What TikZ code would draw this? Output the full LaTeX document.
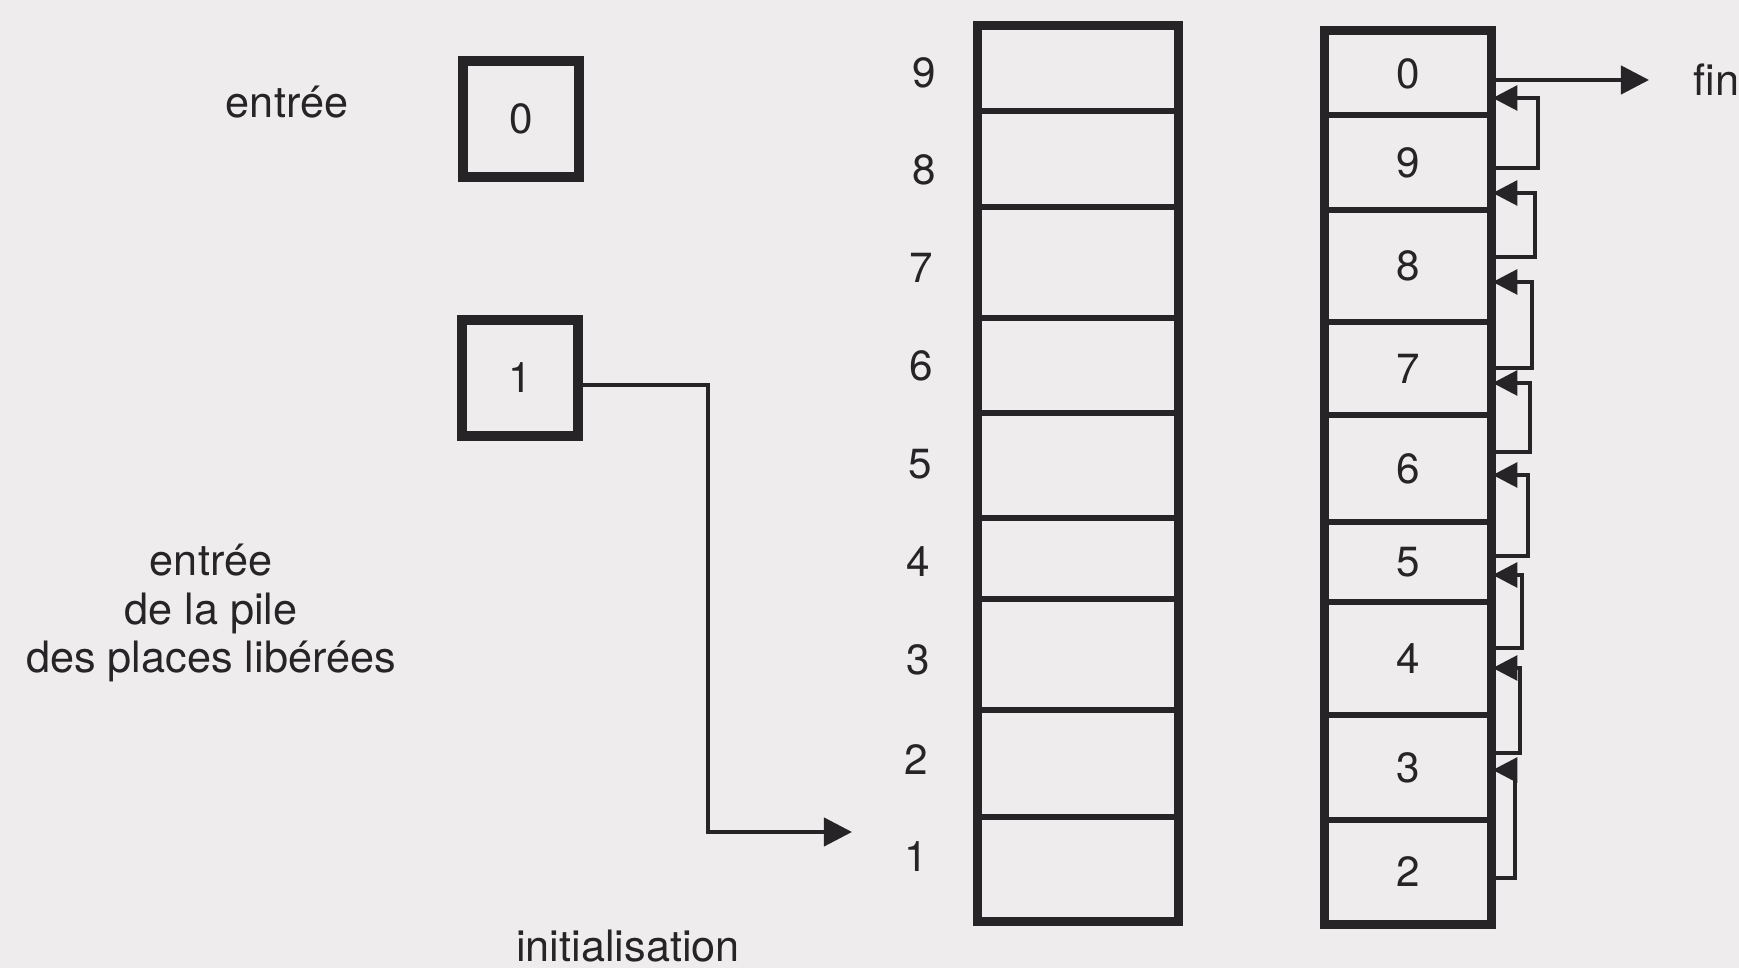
\documentclass[tikz,border=0pt]{standalone}
\usepackage{fontspec}
\setmainfont{TeX Gyre Heros}
\usetikzlibrary{arrows.meta,calc}
\definecolor{paper}{RGB}{239,236,237}
\definecolor{ink}{RGB}{38,36,38}
\tikzset{
  txt/.style={text=ink, font=\fontsize{12.3}{13.7}\selectfont, inner sep=0pt},
  num/.style={text=ink, font=\fontsize{12}{14}\selectfont, inner sep=0pt},
  regbox/.style={draw=ink, line width=3pt, minimum width=1.16cm, minimum height=1.16cm, inner sep=0pt, text=ink, font=\fontsize{12}{14}\selectfont},
  lcell/.style={draw=ink, line width=1.5pt, minimum width=1.98cm, inner sep=0pt},
  rcell/.style={draw=ink, line width=1.5pt, minimum width=1.64cm, inner sep=0pt, text=ink, font=\fontsize{12}{14}\selectfont},
  outerbox/.style={draw=ink, line width=2pt},
  link/.style={draw=ink, line width=1.1pt, -{Triangle[length=7pt,width=7pt]}},
  biglink/.style={draw=ink, line width=1.2pt, -{Triangle[length=8pt,width=8pt]}},
}
\begin{document}
\begin{tikzpicture}[x=0.01cm, y=-0.01cm]
\fill[paper] (0,0) rectangle (1739,968);
\useasboundingbox (0,0) rectangle (1739,968);

% registers
\node[txt] (lab0) at (287,102) {entrée};
\node[regbox] (B0) at (521,119) {0};
\node[regbox] (B1) at (520,378) {1};
\node[txt, align=center] (lab1) at (211,613) {entrée\\de la pile\\des places libérées};

% left stack
\node[lcell, minimum height=0.84cm] (L9) at (1078,69) {};
\node[lcell, minimum height=0.96cm] (L8) at (1078,159) {};
\node[lcell, minimum height=1.11cm] (L7) at (1078,262.5) {};
\node[lcell, minimum height=0.95cm] (L6) at (1078,365.5) {};
\node[lcell, minimum height=1.05cm] (L5) at (1078,465.5) {};
\node[lcell, minimum height=0.81cm] (L4) at (1078,558.5) {};
\node[lcell, minimum height=1.11cm] (L3) at (1078,654.5) {};
\node[lcell, minimum height=1.07cm] (L2) at (1078,763.5) {};
\node[lcell, minimum height=1.03cm] (L1) at (1078,868.5) {};
\draw[outerbox] (L9.north west) rectangle (L1.south east);

\node[num] (n9) at (924,73) {9};
\node[num] (n8) at (924,170) {8};
\node[num] (n7) at (921,268) {7};
\node[num] (n6) at (921,366) {6};
\node[num] (n5) at (920,464) {5};
\node[num] (n4) at (918,562) {4};
\node[num] (n3) at (918,660) {3};
\node[num] (n2) at (916,760) {2};
\node[num] (n1) at (916,857) {1};

% right stack
\node[rcell, minimum height=0.83cm] (R0) at (1408,73.5) {0};
\node[rcell, minimum height=0.95cm] (R9) at (1408,162.5) {9};
\node[rcell, minimum height=1.12cm] (R8) at (1408,266) {8};
\node[rcell, minimum height=0.93cm] (R7) at (1408,368.5) {7};
\node[rcell, minimum height=1.07cm] (R6) at (1408,468.5) {6};
\node[rcell, minimum height=0.80cm] (R5) at (1408,562) {5};
\node[rcell, minimum height=1.13cm] (R4) at (1408,658.5) {4};
\node[rcell, minimum height=1.05cm] (R3) at (1408,767.5) {3};
\node[rcell, minimum height=1.03cm] (R2) at (1408,871.5) {2};
\draw[outerbox] (R0.north west) rectangle (R2.south east);

% chain links
\draw[link] (R9.east |- 0,168) -- (1538,168) |- (R0.east |- 0,98);
\draw[link] (R8.east |- 0,257) -- (1535,257) |- (R9.east |- 0,193);
\draw[link] (R7.east |- 0,368) -- (1532,368) |- (R8.east |- 0,282);
\draw[link] (R6.east |- 0,452) -- (1530,452) |- (R7.east |- 0,383);
\draw[link] (R5.east |- 0,556) -- (1528,556) |- (R6.east |- 0,475);
\draw[link] (R4.east |- 0,648) -- (1522,648) |- (R5.east |- 0,575);
\draw[link] (R3.east |- 0,753) -- (1520,753) |- (R4.east |- 0,668);
\draw[link] (R2.east |- 0,878) -- (1515,878) |- (R3.east |- 0,770);

% fin
\node[txt, anchor=west] (fin) at (1693,80) {fin};
\draw[biglink] (R0.east |- fin) -- ([xshift=-12.5pt]fin.west);

% initialisation
\coordinate (init) at (852,832);
\draw[biglink] (B1.east |- 0,385) -- (708,385) |- (init);
\node[txt] (labinit) at (628,946) {initialisation};
\end{tikzpicture}
\end{document}
